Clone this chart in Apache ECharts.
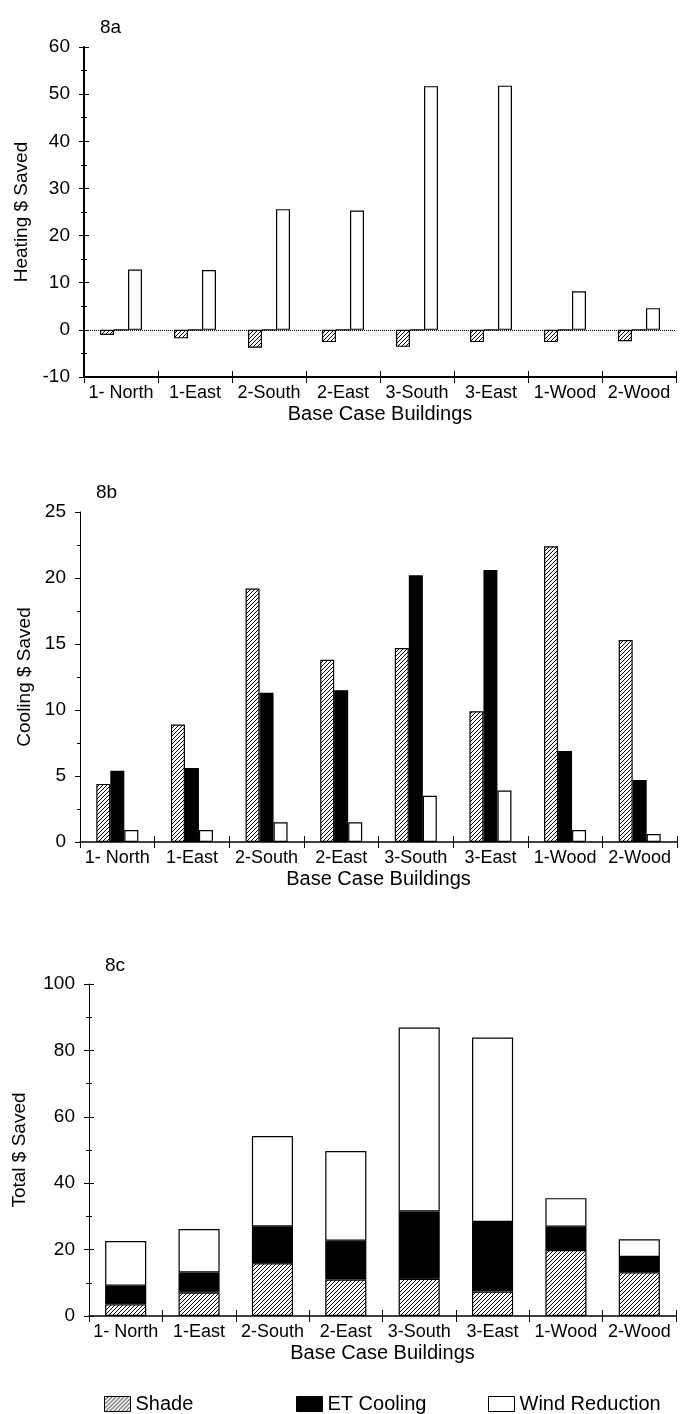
<!DOCTYPE html>
<html>
<head>
<meta charset="utf-8">
<title>Base Case Buildings: $ Saved</title>
<script src="https://cdn.jsdelivr.net/npm/echarts@6/dist/echarts.min.js"></script>
<style>
  html, body { margin: 0; padding: 0; background: #fff; }
  #chart { width: 680px; height: 1414px; }
</style>
</head>
<body>
<div id="chart"></div>
<script>
// Buildings on the category axis
const categories = ['1- North', '1-East', '2-South', '2-East', '3-South', '3-East', '1-Wood', '2-Wood'];

// 8a: heating savings ($)
const heatShade = [-1.1, -1.8, -3.8, -2.6, -3.6, -2.6, -2.6, -2.4];
const heatET    = [0, 0, 0, 0, 0, 0, 0, 0];
const heatWind  = [12.8, 12.7, 25.6, 25.3, 51.7, 51.8, 8.2, 4.6];

// 8b: cooling savings ($)
const coolShade = [4.4, 8.9, 19.2, 13.8, 14.7, 9.9, 22.4, 15.3];
const coolET    = [5.4, 5.6, 11.3, 11.5, 20.2, 20.6, 6.9, 4.7];
const coolWind  = [0.9, 0.9, 1.5, 1.5, 3.5, 3.9, 0.9, 0.6];

// 8c: total savings ($), stacked segments
const totShade = [3.5, 7.1, 15.9, 11.0, 11.2, 7.4, 19.9, 13.2];
const totET    = [5.6, 6.0, 11.1, 11.7, 20.3, 20.9, 7.0, 4.6];
const totWind  = [13.5, 13.1, 27.2, 27.0, 55.4, 55.6, 8.6, 5.3];

// Axis ranges and tick steps per panel
const heatAxis = { min: -10, max: 60, interval: 10 };
const coolAxis = { min: 0, max: 25, interval: 5 };
const totAxis  = { min: 0, max: 100, interval: 20 };

const seriesNames = ['Shade', 'ET Cooling', 'Wind Reduction'];

const FONT = 'Liberation Sans, Arial, Helvetica, sans-serif';

// Diagonal hatch used for the Shade bars
function hatchTile() {
  const c = document.createElement('canvas');
  c.width = 4; c.height = 4;
  const g = c.getContext('2d');
  g.fillStyle = '#ffffff';
  g.fillRect(0, 0, 4, 4);
  g.strokeStyle = '#000000';
  g.lineWidth = 1;
  g.beginPath();
  g.moveTo(0, 4); g.lineTo(4, 0);
  g.moveTo(-1, 1); g.lineTo(1, -1);
  g.moveTo(3, 5); g.lineTo(5, 3);
  g.stroke();
  return c;
}
const hatch = { image: hatchTile(), repeat: 'repeat' };

const fills = {
  'Shade': hatch,
  'ET Cooling': '#000000',
  'Wind Reduction': '#ffffff'
};

// Panel frames (px)
const panels = [
  { left: 84, right: 4, top: 47, height: 330, axis: heatAxis, name: 'Heating $ Saved', nameGap: 53, lineW: 2, minorSplit: 2, crossY: true, xLineW: 2 },
  { left: 80, right: 3, top: 512, height: 330, axis: coolAxis, name: 'Cooling $ Saved', nameGap: 46, lineW: 1, minorSplit: 2, crossY: false, xLineW: 1.5 },
  { left: 89, right: 4, top: 984, height: 332, axis: totAxis, name: 'Total $ Saved', nameGap: 60, lineW: 1, minorSplit: 2, crossY: true, xLineW: 1.5 }
];

const grids = [];
const xAxes = [];
const yAxes = [];

panels.forEach((p, i) => {
  // main grid
  grids.push({ left: p.left, right: p.right, top: p.top, height: p.height });
  xAxes.push({
    type: 'category', gridIndex: i, data: categories, position: 'bottom',
    axisLine: { onZero: false, lineStyle: { color: '#000', width: p.xLineW } },
    axisTick: { show: true, length: 6, lineStyle: { color: '#000', width: 1 } },
    axisLabel: { color: '#000', fontFamily: FONT, fontSize: 18, margin: 7, interval: 0 },
    name: 'Base Case Buildings', nameLocation: 'middle', nameGap: 27,
    nameTextStyle: { color: '#000', fontFamily: FONT, fontSize: 20 }
  });
  yAxes.push({
    type: 'value', gridIndex: i, min: p.axis.min, max: p.axis.max, interval: p.axis.interval,
    splitLine: { show: false },
    axisLine: { show: true, lineStyle: { color: '#000', width: p.lineW } },
    axisTick: { show: true, length: 5, lineStyle: { color: '#000' } },
    minorTick: { show: true, splitNumber: p.minorSplit, length: 3, lineStyle: { color: '#000' } },
    axisLabel: { color: '#000', fontFamily: FONT, fontSize: 19, margin: 14 },
    name: p.name, nameLocation: 'middle', nameGap: p.nameGap, nameRotate: 90,
    nameTextStyle: { color: '#000', fontFamily: FONT, fontSize: 19 }
  });
});

// Overlay grids carry inward ticks so the tick marks cross the axis lines
panels.forEach((p, i) => {
  const gi = panels.length + i;
  grids.push({ left: p.left, right: p.right, top: p.top, height: p.height });
  xAxes.push({
    type: 'category', gridIndex: gi, data: categories, position: 'bottom',
    axisLine: { show: false, onZero: false },
    axisTick: { show: true, inside: true, length: 6, lineStyle: { color: '#000', width: 1 } },
    axisLabel: { show: false }
  });
  yAxes.push({
    type: 'value', gridIndex: gi, min: p.axis.min, max: p.axis.max, interval: p.axis.interval,
    splitLine: { show: false },
    axisLine: { show: false },
    axisTick: { show: p.crossY, inside: true, length: 5, lineStyle: { color: '#000' } },
    minorTick: { show: p.crossY, splitNumber: p.minorSplit, length: 3, lineStyle: { color: '#000' } },
    axisLabel: { show: false }
  });
});

function barStyle(name) {
  return { color: fills[name], borderColor: '#000', borderWidth: 1.2 };
}

const series = [];

// 8a and 8b: grouped bars
[[heatShade, heatET, heatWind], [coolShade, coolET, coolWind]].forEach((set, pi) => {
  set.forEach((vals, si) => {
    const s = {
      type: 'bar', name: seriesNames[si], xAxisIndex: pi, yAxisIndex: pi,
      data: vals, barWidth: 14, barGap: '0%',
      itemStyle: barStyle(seriesNames[si]),
      emphasis: { disabled: true }, animation: false
    };
    if (pi === 0 && si === 0) {
      // dotted zero line across the heating panel
      s.markLine = {
        silent: true, symbol: ['none', 'none'], label: { show: false },
        lineStyle: { color: '#000', type: 'dotted', width: 1 },
        data: [{ yAxis: 0 }]
      };
    }
    series.push(s);
  });
});

// 8c: stacked totals
[totShade, totET, totWind].forEach((vals, si) => {
  series.push({
    type: 'bar', name: seriesNames[si], xAxisIndex: 2, yAxisIndex: 2,
    data: vals, stack: 'total', barWidth: '56%',
    itemStyle: barStyle(seriesNames[si]),
    emphasis: { disabled: true }, animation: false
  });
});

const legendBase = {
  orient: 'horizontal', top: 1389, itemWidth: 26, itemHeight: 15, icon: 'rect',
  textStyle: { color: '#000', fontFamily: FONT, fontSize: 20, padding: [0, 0, 0, 0] },
  itemStyle: { borderColor: '#000', borderWidth: 1 },
  selectedMode: false
};

const option = {
  backgroundColor: '#ffffff',
  animation: false,
  title: [
    { text: '8a', left: 95, top: 13, textStyle: { color: '#000', fontFamily: FONT, fontSize: 19, fontWeight: 'normal' } },
    { text: '8b', left: 91, top: 478, textStyle: { color: '#000', fontFamily: FONT, fontSize: 19, fontWeight: 'normal' } },
    { text: '8c', left: 100, top: 951, textStyle: { color: '#000', fontFamily: FONT, fontSize: 19, fontWeight: 'normal' } }
  ],
  legend: [
    Object.assign({}, legendBase, { left: 99, data: ['Shade'] }),
    Object.assign({}, legendBase, { left: 291, data: ['ET Cooling'] }),
    Object.assign({}, legendBase, { left: 483, data: ['Wind Reduction'] })
  ],
  grid: grids,
  xAxis: xAxes,
  yAxis: yAxes,
  series: series
};

const chart = echarts.init(document.getElementById('chart'), null, { renderer: 'canvas' });
chart.setOption(option);
</script>
</body>
</html>
